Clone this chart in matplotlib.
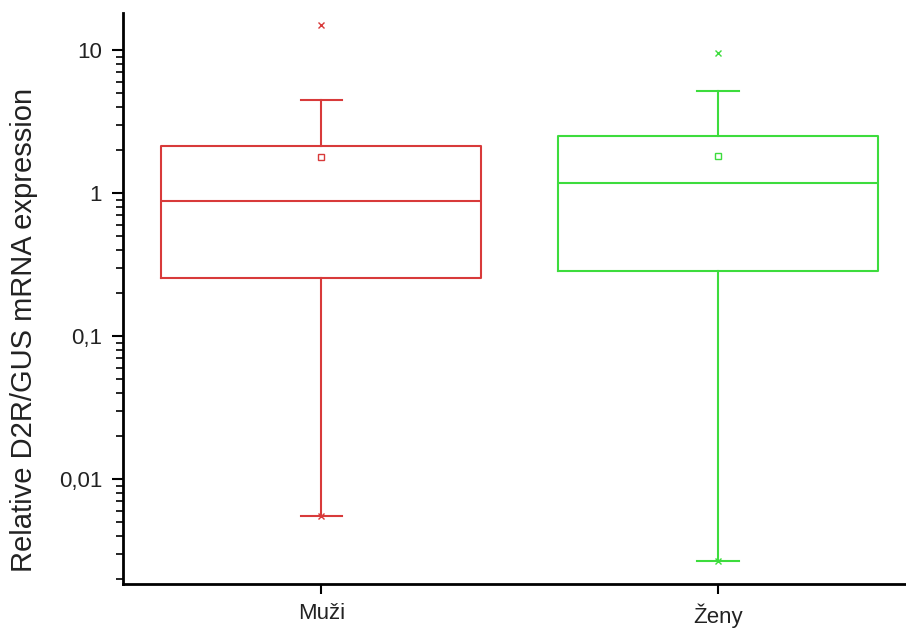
import matplotlib.pyplot as plt
from matplotlib.ticker import LogLocator, FixedLocator, FixedFormatter, NullFormatter

# hodnoty
skupiny = ['Muži', 'Ženy']
barvy = ['#d83a3a', '#3ddc3d']
q1 = [0.255, 0.285]
median = [0.88, 1.17]
q3 = [2.13, 2.5]
prumer = [1.79, 1.81]
whisk_lo = [0.0055, 0.00267]
whisk_hi = [4.47, 5.17]
maxima = [14.96, 9.5]

stats = []
for i in range(len(skupiny)):
    stats.append({'q1': q1[i], 'med': median[i], 'q3': q3[i], 'mean': prumer[i],
                  'whislo': whisk_lo[i], 'whishi': whisk_hi[i],
                  'fliers': [whisk_lo[i], maxima[i]], 'label': skupiny[i]})

plt.rcParams['font.family'] = ['Liberation Sans', 'DejaVu Sans']
fig = plt.figure(figsize=(9.06, 6.31), dpi=100)
ax = fig.add_axes([123/906, 47/631, 1 - 123/906, (584-13)/631])

for i in range(len(skupiny)):
    c = barvy[i]
    ax.bxp([stats[i]], positions=[i + 1], widths=0.806, showmeans=True,
           boxprops=dict(color=c, lw=1.5),
           medianprops=dict(color=c, lw=1.5),
           whiskerprops=dict(color=c, lw=1.5),
           capprops=dict(color=c, lw=1.5),
           capwidths=0.105,
           flierprops=dict(marker='x', markeredgecolor=c, markersize=5, mew=1),
           meanprops=dict(marker='s', markerfacecolor='none', markeredgecolor=c,
                          markersize=5, mew=1))

ax.set_yscale('log')
ax.set_ylim(0.001845, 18.2)
ax.set_xlim(0.5, 2.473)
ax.set_xticks([1, 2])
ax.set_xticklabels(skupiny, fontsize=16, color='#222222')

ax.yaxis.set_major_locator(FixedLocator([0.01, 0.1, 1, 10]))
ax.yaxis.set_major_formatter(FixedFormatter(['0,01', '0,1', '1', '10']))
ax.yaxis.set_minor_locator(LogLocator(base=10, subs=range(2, 10), numticks=20))
ax.yaxis.set_minor_formatter(NullFormatter())
ax.tick_params(axis='y', which='major', length=8, width=1.5, labelsize=16,
               labelcolor='#222222', pad=7)
ax.tick_params(axis='y', which='minor', length=5, width=1.2)
ax.tick_params(axis='x', length=7, width=1.5, pad=7)

ax.set_ylabel('Relative D2R/GUS mRNA expression', fontsize=21, color='#222222')
ax.yaxis.set_label_coords(-0.109, 0.445)

ax.spines['top'].set_visible(False)
ax.spines['right'].set_visible(False)
ax.spines['left'].set_linewidth(2)
ax.spines['bottom'].set_linewidth(2)

fig.savefig('out.png', dpi=100)
